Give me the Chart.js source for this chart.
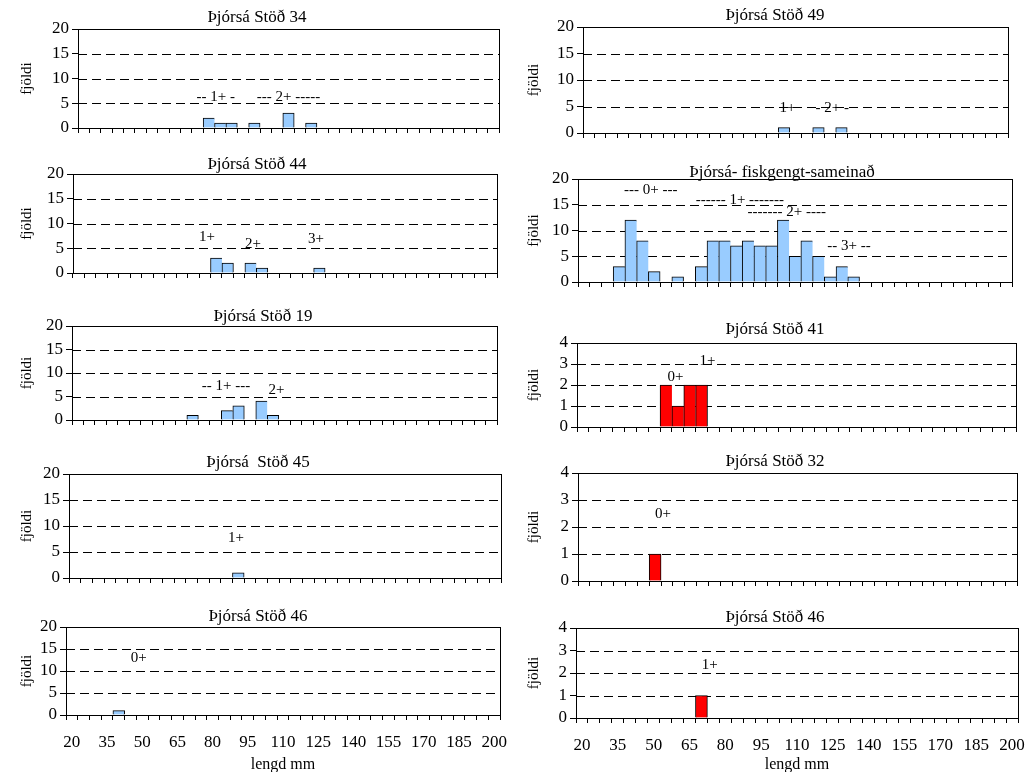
<!DOCTYPE html>
<html>
<head>
<meta charset="utf-8">
<title>Þjórsá - lengdardreifing</title>
<script src="https://cdn.jsdelivr.net/npm/chart.js@4.4.1/dist/chart.umd.min.js"></script>
<style>
  html, body { margin: 0; padding: 0; background: #fff; overflow: hidden; }
  #sheet { position: relative; width: 1028px; height: 772px; overflow: hidden; }
  #sheet canvas { position: absolute; }
</style>
</head>
<body>
<div id="sheet"></div>
<script>
// length classes (mm), 5 mm bins
const lengthBins = [20, 25, 30, 35, 40, 45, 50, 55, 60, 65, 70, 75, 80, 85, 90, 95, 100, 105, 110,
  115, 120, 125, 130, 135, 140, 145, 150, 155, 160, 165, 170, 175, 180, 185, 190, 195, 200];
const xTickLabels = ["20", "35", "50", "65", "80", "95", "110", "125", "140", "155", "170", "185", "200"];

// counts per bin, rows: 20-65, 70-115, 120-165, 170-200
const st34Counts = [
  0, 0, 0, 0, 0, 0, 0, 0, 0, 0,
  0, 2, 1, 1, 0, 1, 0, 0, 3, 0,
  1, 0, 0, 0, 0, 0, 0, 0, 0, 0,
  0, 0, 0, 0, 0, 0, 0
];
const st49Counts = [
  0, 0, 0, 0, 0, 0, 0, 0, 0, 0,
  0, 0, 0, 0, 0, 0, 0, 1, 0, 0,
  1, 0, 1, 0, 0, 0, 0, 0, 0, 0,
  0, 0, 0, 0, 0, 0, 0
];
const st44Counts = [
  0, 0, 0, 0, 0, 0, 0, 0, 0, 0,
  0, 0, 3, 2, 0, 2, 1, 0, 0, 0,
  0, 1, 0, 0, 0, 0, 0, 0, 0, 0,
  0, 0, 0, 0, 0, 0, 0
];
const combinedCounts = [
  0, 0, 0, 3, 12, 8, 2, 0, 1, 0,
  3, 8, 8, 7, 8, 7, 7, 12, 5, 8,
  5, 1, 3, 1, 0, 0, 0, 0, 0, 0,
  0, 0, 0, 0, 0, 0, 0
];
const st19Counts = [
  0, 0, 0, 0, 0, 0, 0, 0, 0, 0,
  1, 0, 0, 2, 3, 0, 4, 1, 0, 0,
  0, 0, 0, 0, 0, 0, 0, 0, 0, 0,
  0, 0, 0, 0, 0, 0, 0
];
const st41Counts = [
  0, 0, 0, 0, 0, 0, 0, 2, 1, 2,
  2, 0, 0, 0, 0, 0, 0, 0, 0, 0,
  0, 0, 0, 0, 0, 0, 0, 0, 0, 0,
  0, 0, 0, 0, 0, 0, 0
];
const st45Counts = [
  0, 0, 0, 0, 0, 0, 0, 0, 0, 0,
  0, 0, 0, 0, 1, 0, 0, 0, 0, 0,
  0, 0, 0, 0, 0, 0, 0, 0, 0, 0,
  0, 0, 0, 0, 0, 0, 0
];
const st32Counts = [
  0, 0, 0, 0, 0, 0, 1, 0, 0, 0,
  0, 0, 0, 0, 0, 0, 0, 0, 0, 0,
  0, 0, 0, 0, 0, 0, 0, 0, 0, 0,
  0, 0, 0, 0, 0, 0, 0
];
const st46aCounts = [
  0, 0, 0, 0, 1, 0, 0, 0, 0, 0,
  0, 0, 0, 0, 0, 0, 0, 0, 0, 0,
  0, 0, 0, 0, 0, 0, 0, 0, 0, 0,
  0, 0, 0, 0, 0, 0, 0
];
const st46bCounts = [
  0, 0, 0, 0, 0, 0, 0, 0, 0, 0,
  1, 0, 0, 0, 0, 0, 0, 0, 0, 0,
  0, 0, 0, 0, 0, 0, 0, 0, 0, 0,
  0, 0, 0, 0, 0, 0, 0
];

// age group notes: [text, length mm, count]
const st34Notes = [["-- 1+ -", 78, 6.2], ["--- 2+ -----", 110, 6.2]];
const st49Notes = [["1+", 106.5, 4.7], ["- 2+ -", 126, 4.7]];
const st44Notes = [["1+", 76, 7.2], ["2+", 96, 5.9], ["3+", 123.5, 6.8]];
const combinedNotes = [["--- 0+ ---", 48.5, 17.9], ["------ 1+ -------", 86.5, 15.9],
  ["------- 2+ ----", 106.5, 13.6], ["-- 3+ --", 133, 6.9]];
const st19Notes = [["-- 1+ ---", 84.5, 7.2], ["2+", 106.5, 6.3]];
const st41Notes = [["0+", 59, 2.4], ["1+", 72.5, 3.16]];
const st45Notes = [["1+", 89, 7.6]];
const st32Notes = [["0+", 53.3, 2.48]];
const st46aNotes = [["0+", 48.5, 12.95]];
const st46bNotes = [["1+", 73.5, 2.37]];

const blueFill = "#99CCFF";
const redFill = "#FF0000";

const panels = [
  { title: "Þjórsá Stöð 34", counts: st34Counts, notes: st34Notes, fill: blueFill, yMax: 20 },
  { title: "Þjórsá Stöð 49", counts: st49Counts, notes: st49Notes, fill: blueFill, yMax: 20 },
  { title: "Þjórsá Stöð 44", counts: st44Counts, notes: st44Notes, fill: blueFill, yMax: 20 },
  { title: "Þjórsá- fiskgengt-sameinað", counts: combinedCounts, notes: combinedNotes, fill: blueFill, yMax: 20 },
  { title: "Þjórsá Stöð 19", counts: st19Counts, notes: st19Notes, fill: blueFill, yMax: 20 },
  { title: "Þjórsá Stöð 41", counts: st41Counts, notes: st41Notes, fill: redFill, yMax: 4 },
  { title: "Þjórsá  Stöð 45", counts: st45Counts, notes: st45Notes, fill: blueFill, yMax: 20 },
  { title: "Þjórsá Stöð 32", counts: st32Counts, notes: st32Notes, fill: redFill, yMax: 4 },
  { title: "Þjórsá Stöð 46", counts: st46aCounts, notes: st46aNotes, fill: blueFill, yMax: 20 },
  { title: "Þjórsá Stöð 46", counts: st46bCounts, notes: st46bNotes, fill: redFill, yMax: 4 }
];

// plot boxes on the page (left, top, right, bottom) and title centres
const plotBoxes = [
  { l: 78, t: 29, r: 499, b: 128, tx: 257, ty: 18 },
  { l: 583, t: 27, r: 1008, b: 133, tx: 775, ty: 16 },
  { l: 73, t: 174, r: 497, b: 273, tx: 257, ty: 165 },
  { l: 578, t: 179, r: 1012, b: 282, tx: 782, ty: 173 },
  { l: 72, t: 326, r: 497, b: 420, tx: 263, ty: 317 },
  { l: 577, t: 343, r: 1016, b: 427, tx: 775, ty: 330 },
  { l: 69, t: 474, r: 501, b: 578, tx: 258, ty: 463 },
  { l: 578, t: 473, r: 1017, b: 581, tx: 775, ty: 462 },
  { l: 66, t: 627, r: 500, b: 715, tx: 258, ty: 617 },
  { l: 576, t: 628, r: 1018, b: 718, tx: 775, ty: 618 }
];

const serif = "'Liberation Serif', 'Times New Roman', serif";
Chart.defaults.font.family = serif;
Chart.defaults.color = "#000";

const padTop = 22;

function makeDecor(panel, left, top) {
  return {
    id: "panelDecor",
    beforeDatasetsDraw(chart) {
      const { ctx, chartArea: a, scales: { y } } = chart;
      ctx.save();
      ctx.strokeStyle = "#000";
      ctx.lineWidth = 1;
      ctx.setLineDash([9, 5]);
      y.ticks.forEach(t => {
        if (t.value <= y.min || t.value >= y.max) return;
        const py = Math.round(y.getPixelForValue(t.value)) + 0.5;
        ctx.beginPath();
        ctx.moveTo(a.left, py);
        ctx.lineTo(a.right, py);
        ctx.stroke();
      });
      ctx.restore();
    },
    afterDatasetsDraw(chart) {
      const { ctx, chartArea: a, scales: { x, y } } = chart;
      ctx.save();
      ctx.strokeStyle = "#000";
      ctx.lineWidth = 1;
      ctx.strokeRect(Math.round(a.left) + 0.5, Math.round(a.top) + 0.5,
        Math.round(a.right) - Math.round(a.left), Math.round(a.bottom) - Math.round(a.top));

      ctx.fillStyle = "#000";
      ctx.textAlign = "center";
      ctx.textBaseline = "middle";
      ctx.font = "15px " + serif;
      panel.notes.forEach(([text, mm, val]) => {
        const xi = (mm - lengthBins[0]) / (lengthBins[1] - lengthBins[0]);
        ctx.fillText(text, x.getPixelForValue(xi), y.getPixelForValue(val));
      });

      ctx.font = "17px " + serif;
      ctx.fillText(panel.title, panel.box.tx - left, panel.box.ty - top);
      ctx.restore();
    }
  };
}

const sheet = document.getElementById("sheet");

panels.forEach((panel, i) => {
  const box = plotBoxes[i];
  panel.box = box;
  const rightCol = i % 2 === 1;
  const bottomRow = i >= 8;
  const left = rightCol ? 523 : 16;
  const top = box.t - padTop;
  const axisW = box.l - left;
  const bottomH = bottomRow ? (rightCol ? 56 : 59) : 16;
  const padRight = bottomRow ? 24 : 12;

  const canvas = document.createElement("canvas");
  canvas.width = box.r + padRight - left;
  canvas.height = box.b - box.t + padTop + bottomH;
  canvas.style.left = left + "px";
  canvas.style.top = top + "px";
  sheet.appendChild(canvas);

  const values = panel.counts.map(v => (v > 0 ? v : null));

  new Chart(canvas, {
    type: "bar",
    data: {
      labels: lengthBins.map(String),
      datasets: [{
        data: values,
        backgroundColor: panel.fill,
        borderColor: "#000",
        borderWidth: ctx => {
          const next = values[ctx.dataIndex + 1];
          return { top: 1, left: 1, right: next ? 0 : 1, bottom: 0 };
        },
        borderSkipped: false,
        categoryPercentage: 1,
        barPercentage: 1
      }]
    },
    options: {
      responsive: false,
      animation: false,
      events: [],
      layout: { padding: { top: padTop, right: padRight, left: 0, bottom: 0 } },
      plugins: {
        legend: { display: false },
        tooltip: { enabled: false },
        title: { display: false }
      },
      scales: {
        x: {
          offset: true,
          grid: {
            display: true,
            offset: true,
            drawOnChartArea: false,
            drawTicks: true,
            tickLength: 5,
            color: "#000"
          },
          border: { display: true, color: "#000", width: 1 },
          ticks: {
            display: bottomRow,
            autoSkip: false,
            maxRotation: 0,
            padding: 12,
            font: { size: 17 },
            callback: (value, index) => {
              const label = String(lengthBins[index]);
              return xTickLabels.includes(label) ? label : "";
            }
          },
          title: {
            display: bottomRow,
            text: "lengd mm",
            font: { size: 16 },
            padding: { top: 0, bottom: 0 }
          },
          afterFit: scale => { scale.height = bottomH; }
        },
        y: {
          min: 0,
          max: panel.yMax,
          ticks: {
            stepSize: panel.yMax / 4,
            autoSkip: false,
            padding: 3,
            font: { size: 17 }
          },
          grid: {
            display: true,
            drawOnChartArea: false,
            drawTicks: true,
            tickLength: 6,
            color: "#000"
          },
          border: { display: true, color: "#000", width: 1 },
          title: {
            display: true,
            text: "fjöldi",
            font: { size: 15 },
            padding: { top: 2, bottom: 0 }
          },
          afterFit: scale => { scale.width = axisW; }
        }
      }
    },
    plugins: [makeDecor(panel, left, top)]
  });
});
</script>
</body>
</html>
